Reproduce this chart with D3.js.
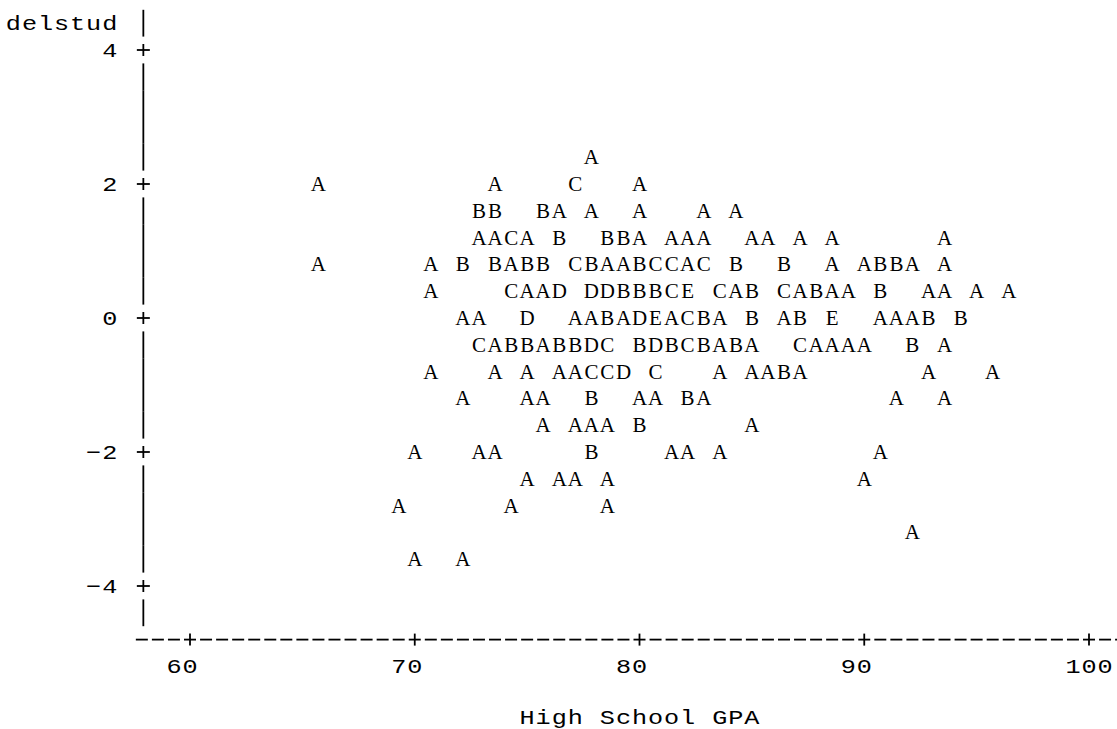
<!DOCTYPE html>
<html>
<head>
<meta charset="utf-8">
<script src="https://cdn.jsdelivr.net/npm/d3@7"></script>
<style>
  html, body { margin: 0; padding: 0; background: #fff; }
  svg text { font-family: "Liberation Mono", "Courier New", monospace; font-size: 21px; fill: #000; }
  svg text.serif { font-family: "Liberation Serif", "Times New Roman", serif; }
</style>
</head>
<body>
<svg id="chart" width="1117" height="729"></svg>
<script>
/////////  Data  /////////

// delstud value of each printed row (top to bottom)
const delstudRows = [2.4, 2.0, 1.6, 1.2, 0.8, 0.4, 0, -0.4, -0.8, -1.2, -1.6, -2.0, -2.4, -2.8, -3.2, -3.6];

// High School GPA of every symbol in that row
const gpaRows = [
  [77.86],
  [65.71, 73.57, 77.14, 80.00],
  [72.86, 73.57, 75.71, 76.43, 77.86, 80.00, 82.86, 84.29],
  [72.86, 73.57, 74.29, 75.00, 76.43, 78.57, 79.29, 80.00, 81.43, 82.14, 82.86, 85.00, 85.71, 87.14, 88.57, 93.57],
  [65.71, 70.71, 72.14, 73.57, 74.29, 75.00, 75.71, 77.14, 77.86, 78.57, 79.29, 80.00, 80.71, 81.43, 82.14, 82.86,
   84.29, 86.43, 88.57, 90.00, 90.71, 91.43, 92.14, 93.57],
  [70.71, 74.29, 75.00, 75.71, 76.43, 77.86, 78.57, 79.29, 80.00, 80.71, 81.43, 82.14, 83.57, 84.29, 85.00, 86.43,
   87.14, 87.86, 88.57, 89.29, 90.71, 92.86, 93.57, 95.00, 96.43],
  [72.14, 72.86, 75.00, 77.14, 77.86, 78.57, 79.29, 80.00, 80.71, 81.43, 82.14, 82.86, 83.57, 85.00, 86.43, 87.14,
   88.57, 90.71, 91.43, 92.14, 92.86, 94.29],
  [72.86, 73.57, 74.29, 75.00, 75.71, 76.43, 77.14, 77.86, 78.57, 80.00, 80.71, 81.43, 82.14, 82.86, 83.57, 84.29,
   85.00, 87.14, 87.86, 88.57, 89.29, 90.00, 92.14, 93.57],
  [70.71, 73.57, 75.00, 76.43, 77.14, 77.86, 78.57, 79.29, 80.71, 83.57, 85.00, 85.71, 86.43, 87.14, 92.86, 95.71],
  [72.14, 75.00, 75.71, 77.86, 80.00, 80.71, 82.14, 82.86, 91.43, 93.57],
  [75.71, 77.14, 77.86, 78.57, 80.00, 85.00],
  [70.00, 72.86, 73.57, 77.86, 81.43, 82.14, 83.57, 90.71],
  [75.00, 76.43, 77.14, 78.57, 90.00],
  [69.29, 74.29, 78.57],
  [92.14],
  [70.00, 72.14],
];

// plot symbols (A = 1 obs, B = 2 obs, ...) in the same order
const symbolRows = [
  "A",
  "AACA",
  "BBBAAAAA",
  "AACABBBAAAAAAAAA",
  "AABBABBCBAABCCACBBAABBAA",
  "ACAADDDBBBCECABCABAABAAAA",
  "AADAABADEACBABABEAAABB",
  "CABBABBDCBDBCBABACAAAABA",
  "AAAAACCDCAAABAAA",
  "AAABAABAAA",
  "AAAABA",
  "AAABAAAA",
  "AAAAA",
  "AAA",
  "A",
  "AA",
];

const xTicks = [60, 70, 80, 90, 100];
const yTicks = [4, 2, 0, -2, -4];
const xTitle = "High School GPA";
const yTitle = "delstud";

/////////  Scales  /////////

const svg = d3.select("#chart");

const x = d3.scaleLinear().domain([60, 100]).range([190, 1089]);
const y = d3.scaleLinear().domain([-4, 4]).range([586, 50]);

// one printer cell, taken from the scales
const cellW = (x(70) - x(60)) / 14;
const rowH = (y(2) - y(4)) / 5;
const axisX = x(60) - 3 * cellW + 1.5;
const rowY = (r) => y(4) + r * rowH;

// draws one character centred at (cx, cy)
function putChar(g, ch, cx, cy) {
  g.append("text")
    .attr("transform", "translate(" + cx + "," + cy + ") scale(1.2,1)")
    .attr("text-anchor", "middle")
    .attr("dy", "0.33em")
    .text(ch);
}

/////////  Axes  /////////

const axis = svg.append("g").attr("stroke", "#000").attr("stroke-width", 1.8);

// vertical axis: "|" on every row, "+" on tick rows
d3.range(-1, 22).forEach((r) => {
  const cy = rowY(r);
  if (r >= 0 && r <= 20 && r % 5 === 0) {
    axis.append("line").attr("x1", axisX - 6.5).attr("x2", axisX + 6.5).attr("y1", cy).attr("y2", cy);
    axis.append("line").attr("x1", axisX).attr("x2", axisX).attr("y1", cy - 6).attr("y2", cy + 6);
  } else {
    axis.append("line").attr("x1", axisX).attr("x2", axisX)
      .attr("y1", cy - rowH / 2).attr("y2", cy + rowH / 2);
  }
});

// horizontal axis: dashes with "+" at the ticks
const axisY = rowY(22);
d3.range(-3, 59).forEach((k) => {
  const cx = x(60) + k * cellW;
  axis.append("line").attr("x1", cx - 6).attr("x2", cx + 6).attr("y1", axisY).attr("y2", axisY);
  if (k % 14 === 0 && k >= 0) {
    axis.append("line").attr("x1", cx).attr("x2", cx).attr("y1", axisY - 6).attr("y2", axisY + 6);
  }
});

const labels = svg.append("g");

// x tick labels, one character per cell
xTicks.forEach((v) => {
  const s = String(v);
  const half = Math.floor(s.length / 2);
  s.split("").forEach((ch, i) => putChar(labels, ch, x(v) + (i - half) * cellW, rowY(23)));
});

// y tick labels, right aligned two cells left of the axis
const fmt = d3.format("d");
yTicks.forEach((v) => {
  const s = fmt(v);
  s.split("").forEach((ch, i) =>
    putChar(labels, ch, x(60) - (5 + s.length - 1 - i) * cellW, y(v))
  );
});

// axis titles
yTitle.split("").forEach((ch, i) =>
  putChar(labels, ch, x(60) - (5 + yTitle.length - 1 - i) * cellW, rowY(-1))
);
const midT = Math.floor(xTitle.length / 2);
xTitle.split("").forEach((ch, i) => {
  if (ch !== " ") putChar(labels, ch, x(80) + (i - midT) * cellW, 717);
});

/////////  Points  /////////

const points = [];
delstudRows.forEach((v, r) => {
  gpaRows[r].forEach((g, i) => points.push({ gpa: g, delstud: v, sym: symbolRows[r][i] }));
});

svg.append("g")
  .selectAll("text")
  .data(points)
  .enter()
  .append("text")
  .attr("class", "serif")
  .attr("transform", (d) => "translate(" + x(d.gpa) + "," + y(d.delstud) + ")")
  .attr("text-anchor", "middle")
  .attr("dy", "0.33em")
  .text((d) => d.sym);
</script>
</body>
</html>
